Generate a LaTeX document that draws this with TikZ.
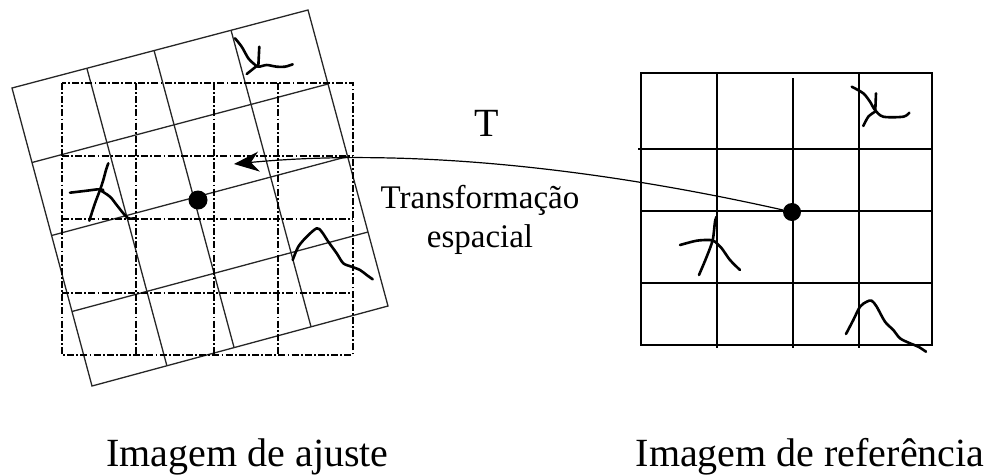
\documentclass[tikz,border=0pt]{standalone}
\usepackage{fontspec}
\setmainfont{Liberation Serif}
\usetikzlibrary{arrows.meta,calc}
\begin{document}
\begin{tikzpicture}[x=1pt,y=-1pt,
  rotgrid/.style={line width=1.3pt, draw=black!85},
  dgrid/.style={line width=1.8pt, dash pattern=on 7pt off 2.2pt on 1.8pt off 2.2pt},
  rgrid/.style={line width=2.1pt},
  scrib/.style={line width=2.6pt, line cap=round, line join=round},
  dotnode/.style={circle, fill=black, inner sep=0pt, minimum size=#1},
  biglbl/.style={font=\fontsize{40}{48}\selectfont, inner sep=0pt, anchor=base},
  midlbl/.style={font=\fontsize{33}{39}\selectfont, inner sep=0pt, align=center},
]
\useasboundingbox (0,0) rectangle (991,475);

% ---- rotated (transformed) grid ----
\coordinate (A) at (12,88);
\coordinate (B) at (308,10);
\coordinate (C) at (388,306);
\coordinate (D) at (92,386);
\draw[rotgrid] (A) -- (B) -- (C) -- (D) -- cycle;
\foreach \f in {0.253,0.48,0.74}
  \draw[rotgrid] ($(A)!\f!(B)$) -- ($(D)!\f!(C)$);
\foreach \f in {0.25,0.495,0.75}
  \draw[rotgrid] ($(A)!\f!(D)$) -- ($(B)!\f!(C)$);

% ---- dash-dotted grid ----
\draw[dgrid] (62,83) rectangle (353,355);
\foreach \x in {136,214,278} \draw[dgrid] (\x,83) -- (\x,355);
\foreach \y in {156,219,293} \draw[dgrid] (62,\y) -- (353,\y);

% ---- reference grid ----
\draw[rgrid] (641,73) rectangle (932,345);
\draw[rgrid] (717,73) -- (717,348);
\draw[rgrid] (793,78) -- (793,348);
\draw[rgrid] (859,73) -- (859,348);
\draw[rgrid] (638,149) -- (932,149);
\draw[rgrid] (641,211) -- (932,211);
\draw[rgrid] (641,283) -- (932,283);

% ---- scribbles, left image ----
\draw[scrib] plot[smooth] coordinates {(235,38.3) (241.7,46.7) (248.3,58.3) (253.3,63.3) (258.3,66.7) (266.7,65) (276.7,66.7) (285,66.7) (292.7,64.3)};
\draw[scrib] (259.3,46.7) -- (258.3,66.7);
\draw[scrib] (256.7,66) -- (246.7,74);
\draw[scrib] plot[smooth] coordinates {(70,192.7) (86.7,190.7) (98.3,189.3) (103.3,190)};
\draw[scrib] plot[smooth] coordinates {(108.3,163.3) (106,170) (103.3,180) (100,190) (95,203.3) (89.3,220.7)};
\draw[scrib] plot[smooth] coordinates {(100,190) (110,196.7) (116.7,205) (123.3,213.3) (128.3,218.3) (135,218.3)};
\draw[scrib] plot[smooth] coordinates {(292.7,260) (298.3,246.7) (306.7,236.7) (316.7,228.3) (321.7,231.7) (328.3,241.7) (336.7,253.3) (343.3,263.3) (351.7,266.7) (360,270) (366.7,275) (372.7,279.3)};

% ---- scribbles, right image ----
\draw[scrib] plot[smooth] coordinates {(851.7,86.7) (863.3,93.3) (870,101.7) (875,110) (883.3,116.7) (903.3,116.7) (909.3,112.7)};
\draw[scrib] (876,93.3) -- (875.3,110);
\draw[scrib] plot[smooth] coordinates {(875,111.7) (868.3,116.7) (863.3,126)};
\draw[scrib] plot[smooth] coordinates {(680,245) (696.7,240.7) (710,240) (715,241.7)};
\draw[scrib] plot[smooth] coordinates {(716.7,216.7) (715,221.7) (712.7,240) (706.7,256.7) (699,275)};
\draw[scrib] plot[smooth] coordinates {(715,241.7) (721.7,248.3) (730,260) (740,270)};
\draw[scrib] plot[smooth] coordinates {(846,334) (853.3,320) (860,306.7) (866.7,301.7) (871.7,300.7) (876.7,306.7) (885,321.7) (893.3,330) (900,338.3) (910,343.3) (918.3,346.7) (926,351.7)};

% ---- points and transformation ----
\node[dotnode=19pt] (ldot) at (198,200) {};
\node[dotnode=18pt] (rdot) at (792,212) {};
\coordinate (tip) at (234,164);
\draw[line width=1.2pt, -{Stealth[length=25pt,width=20pt,inset=8pt]}]
  (rdot) .. controls (560,160) and (380,150) .. (tip);

% ---- labels ----
\node[biglbl] (tlbl) at (487,136) {T};
\node[midlbl, anchor=north] (translbl) at (480,185) {Transformação\\espacial};
\node[biglbl] (ajuste) at (247.5,466) {Imagem de ajuste};
\node[biglbl] (refer) at (810,466) {Imagem de referência};
\end{tikzpicture}
\end{document}
